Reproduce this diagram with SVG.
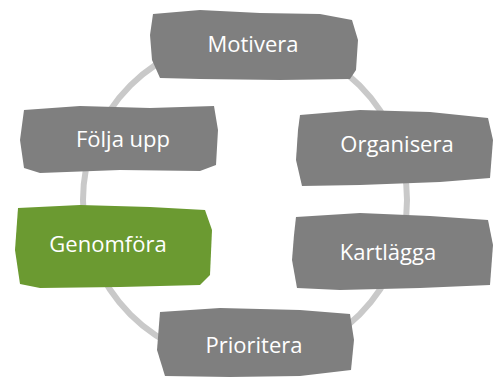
<svg xmlns="http://www.w3.org/2000/svg" width="494" height="381" viewBox="0 0 494 381">
<style>
.box{fill:#7f7f7f}
.green{fill:#6b9a31}
.lbl{font-family:"Open Sans","DejaVu Sans",sans-serif;font-size:22px;fill:#ffffff;text-anchor:middle}
.ring{fill:none;stroke:#c9c9c9;stroke-width:6}
</style>
<rect width="494" height="381" fill="#ffffff"/>
<g id="connectors">
<circle class="ring" cx="245" cy="200" r="162"/>
</g>
<g id="motivera">
<path class="box" d="M153,14 L200,10 L260,13 L320,14 L352,20 L358,40 L356,70 L350,79 L280,80 L200,79 L160,78 L152,60 L150,35 Z"/>
<text class="lbl" x="253" y="52">Motivera</text>
</g>
<g id="organisera">
<path class="box" d="M300,115 L360,110 L430,112 L488,118 L493,140 L490,178 L440,182 L360,185 L302,186 L296,160 L298,130 Z"/>
<text class="lbl" x="397" y="152">Organisera</text>
</g>
<g id="kartlagga">
<path class="box" d="M296,217 L360,213 L430,216 L488,220 L493,245 L490,285 L420,288 L340,290 L297,288 L292,260 L294,235 Z"/>
<text class="lbl" x="388" y="260">Kartlägga</text>
</g>
<g id="prioritera">
<path class="box" d="M160,312 L220,308 L300,310 L350,314 L354,340 L351,370 L300,376 L230,377 L165,376 L157,350 Z"/>
<text class="lbl" x="254" y="353">Prioritera</text>
</g>
<g id="genomfora">
<path class="green" d="M18,208 L80,205 L150,207 L205,210 L212,230 L210,275 L200,285 L120,287 L40,288 L20,284 L15,250 Z"/>
<text class="lbl" x="108" y="252">Genomföra</text>
</g>
<g id="folja-upp">
<path class="box" d="M24,110 L80,106 L150,108 L214,106 L218,130 L216,165 L200,171 L120,170 L40,173 L24,168 L20,140 Z"/>
<text class="lbl" x="123" y="147">Följa upp</text>
</g>
</svg>
